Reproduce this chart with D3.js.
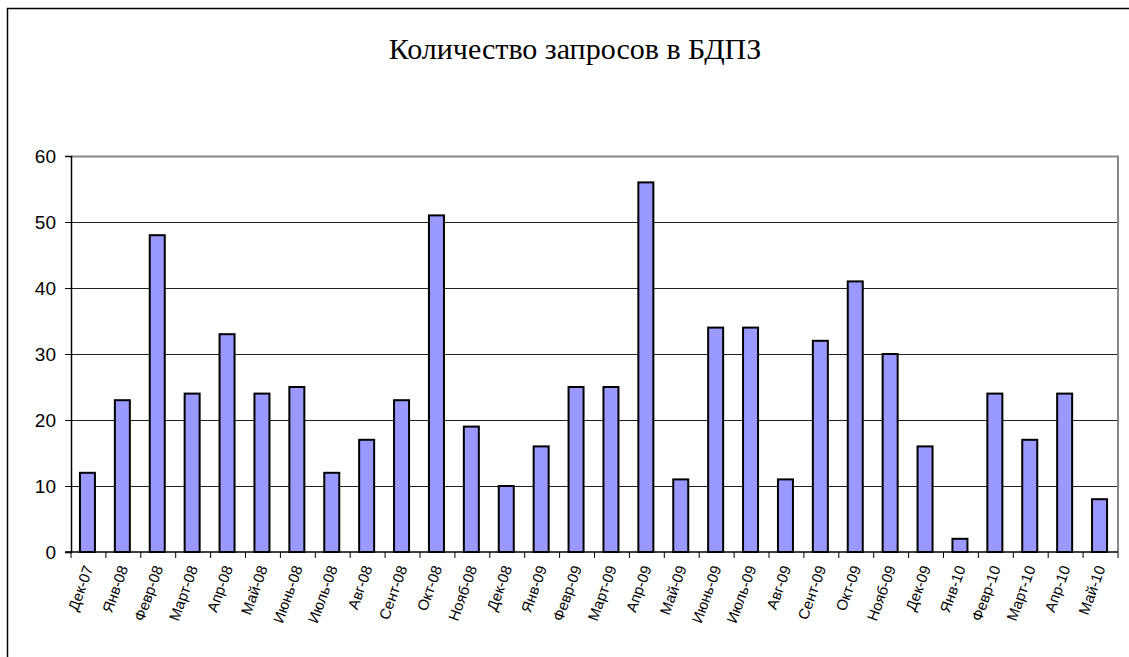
<!DOCTYPE html>
<html>
<head>
<meta charset="utf-8">
<script src="https://cdn.jsdelivr.net/npm/d3@7"></script>
<style>
	body { margin: 0; background: #fff; }
	svg { display: block; }
</style>
</head>
<body>
<div id="chart"></div>
<script>
	var months = ["Дек-07", "Янв-08", "Февр-08", "Март-08", "Апр-08", "Май-08", "Июнь-08", "Июль-08",
		"Авг-08", "Сент-08", "Окт-08", "Нояб-08", "Дек-08", "Янв-09", "Февр-09", "Март-09", "Апр-09",
		"Май-09", "Июнь-09", "Июль-09", "Авг-09", "Сент-09", "Окт-09", "Нояб-09", "Дек-09", "Янв-10",
		"Февр-10", "Март-10", "Апр-10", "Май-10"];
	var requests = [12, 23, 48, 24, 33, 24, 25, 12, 17, 23, 51, 19, 10, 16, 25, 25, 56, 11, 34, 34,
		11, 32, 41, 30, 16, 2, 24, 17, 24, 8];
	var yTicks = [0, 10, 20, 30, 40, 50, 60];
	var title = "Количество запросов в БДПЗ";

	var W = 1129, H = 657;
	var plot = {left: 71, top: 156, right: 1118, bottom: 552};

	var svg = d3.select("#chart").append("svg")
		.attr("width", W)
		.attr("height", H);

	// outer frame (left + top only visible)
	svg.append("path")
		.attr("d", "M7.5," + H + "V8.5H" + W)
		.attr("fill", "none")
		.attr("stroke", "#000")
		.attr("stroke-width", 1.5);

	svg.append("text")
		.attr("x", 575)
		.attr("y", 59)
		.attr("text-anchor", "middle")
		.attr("font-family", "'Liberation Serif', 'Times New Roman', serif")
		.attr("font-size", 30)
		.text(title);

	var x = d3.scaleBand().domain(months).range([plot.left, plot.right]);
	var y = d3.scaleLinear().domain([0, 60]).range([plot.bottom, plot.top]);

	// grid lines
	svg.append("g")
		.selectAll("line")
		.data(yTicks.filter(function(d) { return d > 0 && d < 60; }))
		.join("line")
		.attr("x1", plot.left)
		.attr("x2", plot.right)
		.attr("y1", function(d) { return Math.round(y(d)) + 0.5; })
		.attr("y2", function(d) { return Math.round(y(d)) + 0.5; })
		.attr("stroke", "#222")
		.attr("stroke-width", 1.2);

	// plot border top / right (gray)
	svg.append("path")
		.attr("d", "M" + plot.left + "," + (plot.top + 0.5) + "H" + plot.right + "V" + plot.bottom)
		.attr("fill", "none")
		.attr("stroke", "#888")
		.attr("stroke-width", 2);

	// bars
	var barW = 15;
	svg.append("g")
		.selectAll("rect")
		.data(requests)
		.join("rect")
		.attr("x", function(d, i) { return x(months[i]) + x.bandwidth() / 2 - barW / 2 - 1; })
		.attr("y", function(d) { return y(d); })
		.attr("width", barW)
		.attr("height", function(d) { return y(0) - y(d); })
		.attr("fill", "#9999ff")
		.attr("stroke", "#000")
		.attr("stroke-width", 2);

	// y axis
	var yAxis = svg.append("g")
		.attr("transform", "translate(" + plot.left + ",0)")
		.call(d3.axisLeft(y).tickValues(yTicks).tickSize(6).tickPadding(9));
	yAxis.select(".domain").attr("stroke", "#000").attr("stroke-width", 1.5);
	yAxis.selectAll(".tick line").attr("stroke", "#000");
	yAxis.selectAll("text")
		.attr("font-family", "'Liberation Sans', Arial, sans-serif")
		.attr("font-size", 19)
		.attr("fill", "#000");

	// x axis: ticks at category boundaries
	var xAxisG = svg.append("g")
		.attr("transform", "translate(0," + plot.bottom + ")");
	xAxisG.append("line")
		.attr("x1", plot.left - 6)
		.attr("x2", plot.right)
		.attr("stroke", "#000")
		.attr("stroke-width", 1.5);
	var bounds = months.map(function(m) { return x(m); }).concat([plot.right]);
	xAxisG.selectAll(".xtick")
		.data(bounds)
		.join("line")
		.attr("class", "xtick")
		.attr("x1", function(d) { return d; })
		.attr("x2", function(d) { return d; })
		.attr("y1", 0)
		.attr("y2", 6)
		.attr("stroke", "#000");
	xAxisG.selectAll(".xlab")
		.data(months)
		.join("text")
		.attr("class", "xlab")
		.attr("transform", function(d) {
			return "translate(" + (x(d) + x.bandwidth() / 2 + 5) + ",16) rotate(-70)";
		})
		.attr("text-anchor", "end")
		.attr("font-family", "'Liberation Sans', Arial, sans-serif")
		.attr("font-size", 15)
		.attr("fill", "#000")
		.text(function(d) { return d; });
</script>
</body>
</html>
